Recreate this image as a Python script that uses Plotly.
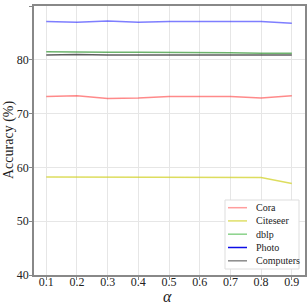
import plotly.graph_objects as go

alpha = [0.1, 0.2, 0.3, 0.4, 0.5, 0.6, 0.7, 0.8, 0.9]
cora = [73.2, 73.3, 72.8, 72.9, 73.2, 73.2, 73.2, 72.9, 73.3]
citeseer = [58.2, 58.2, 58.2, 58.2, 58.2, 58.1, 58.1, 58.1, 57.0]
dblp = [81.5, 81.4, 81.4, 81.4, 81.4, 81.4, 81.3, 81.2, 81.2]
photo = [87.1, 87.0, 87.2, 87.0, 87.1, 87.1, 87.1, 87.1, 86.8]
computers = [80.9, 81.0, 80.9, 80.9, 81.0, 81.0, 80.9, 80.9, 80.9]

names = ["Cora", "Citeseer", "dblp", "Photo", "Computers"]
line_colors = ["rgba(255,60,60,0.6)", "rgba(210,210,40,0.75)", "rgba(30,140,30,0.65)",
               "rgba(40,40,255,0.6)", "rgba(40,40,40,0.75)"]
legend_colors = ["rgba(255,60,60,0.5)", "rgba(210,210,40,0.7)", "rgba(60,180,60,0.6)",
                 "rgba(0,0,230,0.95)", "rgba(60,60,60,0.6)"]
values = [cora, citeseer, dblp, photo, computers]

FONT = "Liberation Serif, Times New Roman, DejaVu Serif, serif"
W, H = 307, 307
L, R, T, B = 34, 2, 6, 32
PW, PH = W - L - R, H - T - B

def px(x):
    return (x - L) / PW

def py(y):
    return (H - B - y) / PH

fig = go.Figure()
for name, vals, color in zip(names, values, line_colors):
    fig.add_trace(go.Scatter(x=alpha, y=vals, mode="lines", name=name,
                             line=dict(color=color, width=1.5), showlegend=False,
                             hoverinfo="skip"))

shapes = []
annotations = []
shapes.append(dict(type="rect", xref="paper", yref="paper",
                   x0=px(225), x1=px(299), y0=py(269), y1=py(200),
                   line=dict(color="#dddddd", width=1), fillcolor="white", layer="above"))
legend_y = [207.7, 220.9, 234.2, 247.5, 260.8]
for name, color, ly in zip(names, legend_colors, legend_y):
    shapes.append(dict(type="line", xref="paper", yref="paper",
                       x0=px(228), x1=px(247), y0=py(ly), y1=py(ly),
                       line=dict(color=color, width=1.5), layer="above"))
    annotations.append(dict(text=name, xref="paper", yref="paper",
                            x=px(254), y=py(ly), xanchor="left", yanchor="middle",
                            showarrow=False, font=dict(family=FONT, size=10, color="#222")))

annotations.append(dict(text="<i>α</i>", xref="paper", yref="paper",
                        x=px(167), y=py(307), xanchor="center", yanchor="bottom",
                        showarrow=False, font=dict(family=FONT, size=16, color="#222")))
annotations.append(dict(text="Accuracy (%)", xref="paper", yref="paper",
                        x=px(9), y=py(140), xanchor="center", yanchor="middle",
                        textangle=-90, showarrow=False,
                        font=dict(family=FONT, size=14, color="#222")))

fig.update_layout(
    width=W, height=H,
    margin=dict(l=L, r=R, t=T, b=B, autoexpand=False),
    plot_bgcolor="white", paper_bgcolor="white",
    font=dict(family=FONT, color="#222", size=12),
    showlegend=False,
    shapes=shapes,
    annotations=annotations,
    xaxis=dict(range=[0.06, 0.943], tickvals=alpha,
               ticktext=[str(a) for a in alpha],
               showgrid=True, gridcolor="#e6e6e6", gridwidth=1,
               showline=True, linecolor="#888", linewidth=1.5, mirror=True,
               ticks="outside", ticklen=3, tickcolor="#888",
               zeroline=False, automargin=False, ticklabelstandoff=-8,
               tickfont=dict(family=FONT, size=12, color="#222")),
    yaxis=dict(range=[40, 90], tickvals=[40, 50, 60, 70, 80, 90],
               showgrid=True, gridcolor="#e6e6e6", gridwidth=1,
               showline=True, linecolor="#888", linewidth=1.5, mirror=True,
               ticks="outside", ticklen=3, tickcolor="#888",
               zeroline=False, automargin=False, ticklabelstandoff=-2,
               tickfont=dict(family=FONT, size=12, color="#222")),
)

fig.write_html("out.html", config={"displayModeBar": False},
               post_script="document.body.style.margin='0px';document.body.style.overflow='hidden';")
